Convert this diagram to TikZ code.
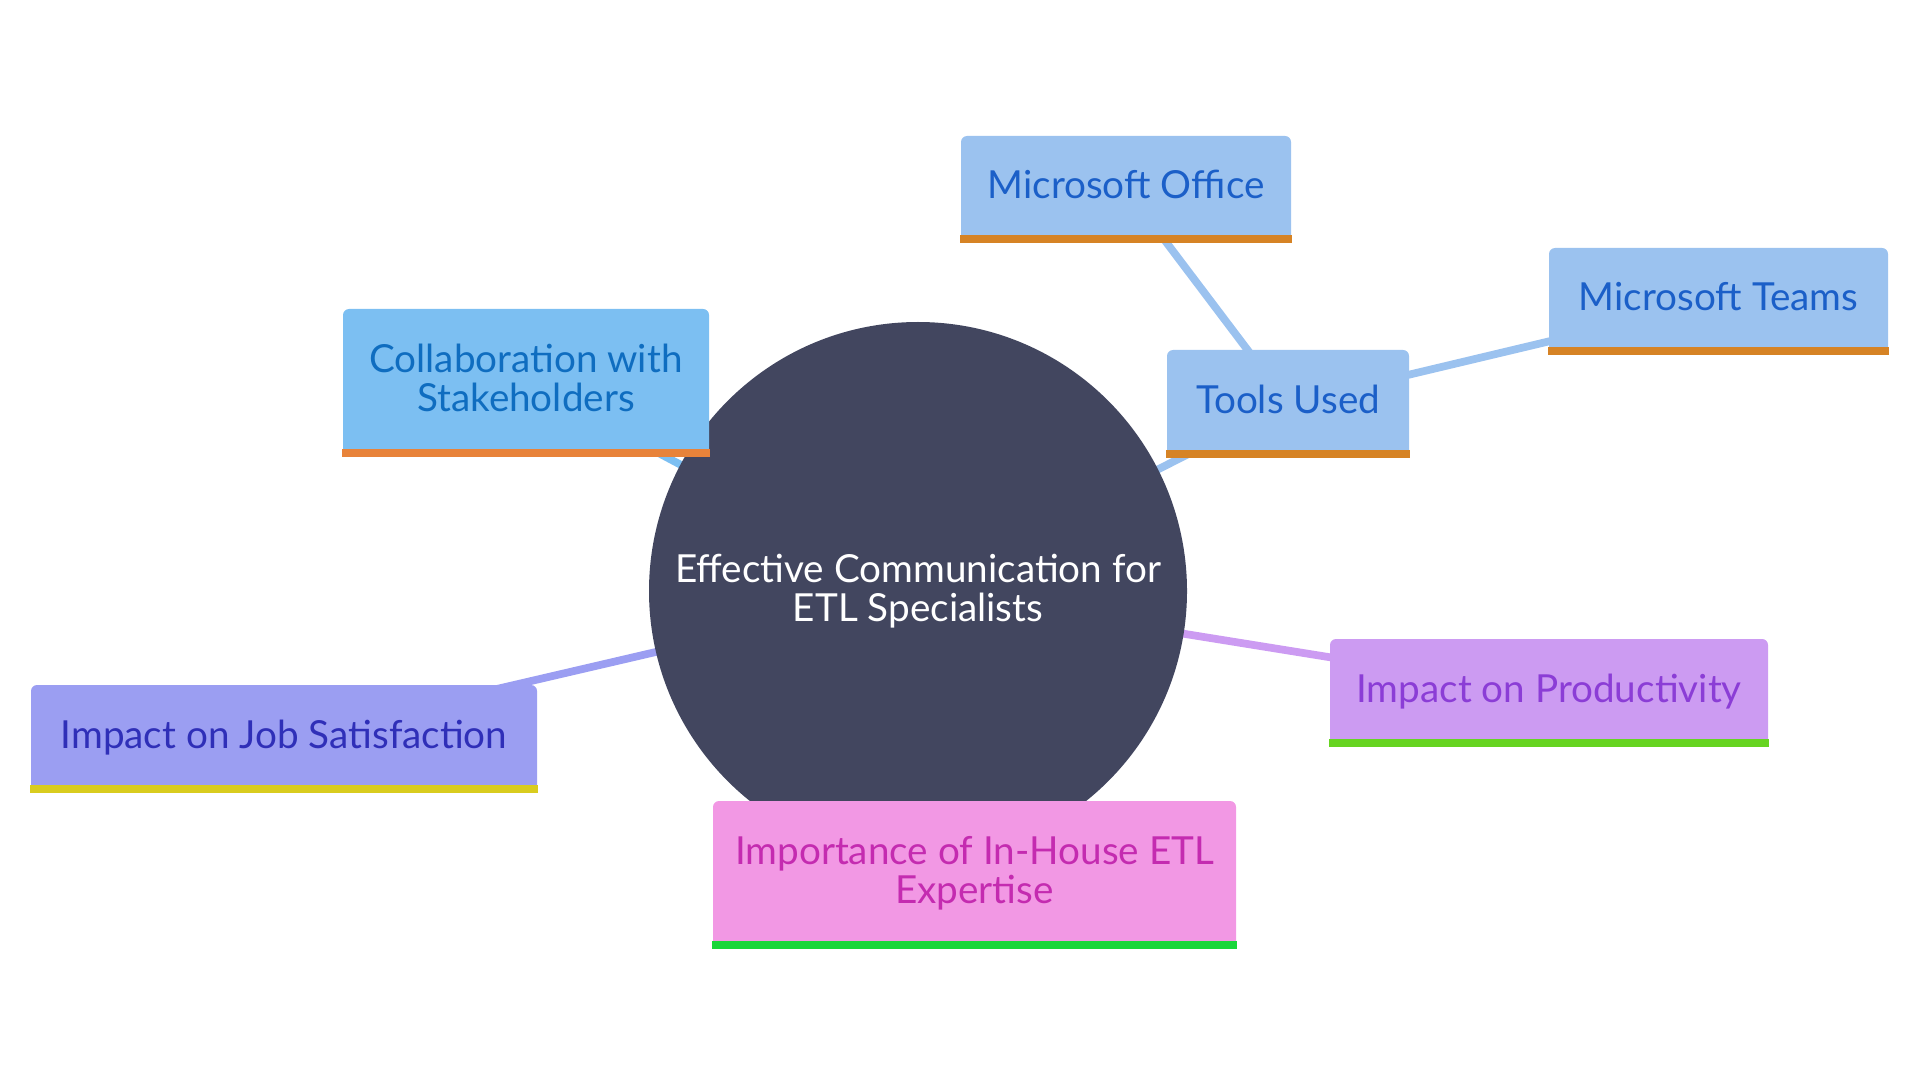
\documentclass[tikz,border=0pt]{standalone}
\usepackage{fontspec}
\setmainfont{Lato}
\usetikzlibrary{backgrounds}
\definecolor{hub}{HTML}{42465F}
\definecolor{collabfill}{HTML}{7CBFF2}
\definecolor{collabtext}{HTML}{0F6DC0}
\definecolor{collabbar}{HTML}{E8833A}
\definecolor{toolfill}{HTML}{9BC2EF}
\definecolor{tooltext}{HTML}{1B5FC8}
\definecolor{toolbar}{HTML}{D68325}
\definecolor{jobfill}{HTML}{9B9EF2}
\definecolor{jobtext}{HTML}{2F2FB8}
\definecolor{jobbar}{HTML}{D9CC1F}
\definecolor{housefill}{HTML}{F298E4}
\definecolor{housetext}{HTML}{C42BB0}
\definecolor{housebar}{HTML}{19D63A}
\definecolor{prodfill}{HTML}{CC9BF2}
\definecolor{prodtext}{HTML}{8B3DD6}
\definecolor{prodbar}{HTML}{66D421}
\tikzset{
  topic/.style={rounded corners=0.06cm, align=center, inner sep=0pt, text depth=2.6pt, font=\fontsize{11}{11.2}\selectfont},
  link/.style={line width=2.2pt},
}
\begin{document}
\begin{tikzpicture}
\useasboundingbox (0,0) rectangle (19.2,-10.8);
\node[circle, fill=hub, minimum size=5.38cm, text=white, align=center, font=\fontsize{11}{11.2}\selectfont] (hub) at (9.18,-5.91) {Effective Communication for\\ETL Specialists};
\node[topic, fill=collabfill, text=collabtext, minimum width=3.66cm, minimum height=1.47cm] (collab) at (5.26,-3.825) {Collaboration with\\Stakeholders};
\node[topic, fill=toolfill, text=tooltext, minimum width=2.42cm, minimum height=1.07cm] (tools) at (12.88,-4.035) {Tools Used};
\node[topic, fill=toolfill, text=tooltext, minimum width=3.30cm, minimum height=1.06cm] (office) at (11.26,-1.89) {Microsoft Office};
\node[topic, fill=toolfill, text=tooltext, minimum width=3.39cm, minimum height=1.06cm] (teams) at (17.185,-3.01) {Microsoft Teams};
\node[topic, fill=jobfill, text=jobtext, minimum width=5.06cm, minimum height=1.07cm] (job) at (2.84,-7.385) {Impact on Job Satisfaction};
\node[topic, fill=housefill, text=housetext, minimum width=5.23cm, minimum height=1.47cm] (house) at (9.745,-8.745) {Importance of In-House ETL\\Expertise};
\node[topic, fill=prodfill, text=prodtext, minimum width=4.38cm, minimum height=1.07cm] (prod) at (15.49,-6.925) {Impact on Productivity};
% bars along the bottom edges
\fill[collabbar] (collab.south west) rectangle ([yshift=0.08cm]collab.south east);
\fill[toolbar] (tools.south west) rectangle ([yshift=0.08cm]tools.south east);
\fill[toolbar] (office.south west) rectangle ([yshift=0.08cm]office.south east);
\fill[toolbar] (teams.south west) rectangle ([yshift=0.08cm]teams.south east);
\fill[jobbar] (job.south west) rectangle ([yshift=0.08cm]job.south east);
\fill[housebar] (house.south west) rectangle ([yshift=0.08cm]house.south east);
\fill[prodbar] (prod.south west) rectangle ([yshift=0.08cm]prod.south east);
\begin{scope}[on background layer]
\draw[link, collabfill] (hub.center) -- (collab.center);
\draw[link, toolfill] (hub.center) -- (tools.center);
\draw[link, toolfill] (tools.center) -- (office.center);
\draw[link, toolfill] (tools.center) -- (teams.center);
\draw[link, jobfill] (hub.center) -- (job.center);
\draw[link, housefill] (hub.center) -- (house.center);
\draw[link, prodfill] (hub.center) -- (prod.center);
\end{scope}
\end{tikzpicture}
\end{document}
